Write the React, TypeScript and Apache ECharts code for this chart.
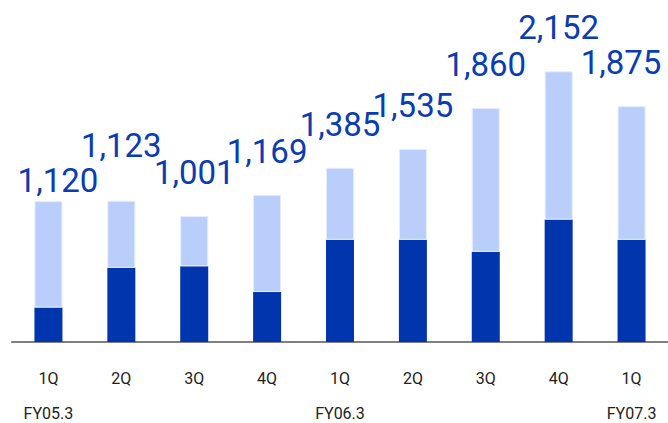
import React, { useEffect, useRef } from "react";
import * as echarts from "echarts";

const quarters = ["1Q", "2Q", "3Q", "4Q", "1Q", "2Q", "3Q", "4Q", "1Q"];
const fiscalYears = ["FY05.3", "", "", "", "FY06.3", "", "", "", "FY07.3"];
const totals = [1120, 1123, 1001, 1169, 1385, 1535, 1860, 2152, 1875];
const darkPart = [274, 590, 602, 397, 813, 813, 717, 973, 813];
const lightPart = totals.map((t, i) => t - darkPart[i]);

const fmt = (v: number) => v.toLocaleString("en-US");

export default function App() {
  const ref = useRef<HTMLDivElement>(null);
  useEffect(() => {
    if (!ref.current) return;
    const chart = echarts.init(ref.current, null, { renderer: "svg" });
    const nudge: Record<number, number[]> = { 0: [9.5, 22.5], 1: [0, -12], 8: [-10.5, 0] };
    chart.setOption({
      animation: false,
      grid: { left: 12, right: -1, top: 42, bottom: 81 },
      xAxis: {
        type: "category",
        data: quarters,
        axisTick: { show: false },
        axisLine: { lineStyle: { color: "#808080", width: 2 } },
        axisLabel: {
          interval: 0,
          margin: 19,
          formatter: (v: string, i: number) => `{q|${v}}\n{y|${fiscalYears[i] || " "}}`,
          rich: {
            q: { fontFamily: "Roboto", fontSize: 16, color: "#222", lineHeight: 35 },
            y: { fontFamily: "Roboto", fontSize: 16, color: "#222", lineHeight: 35 },
          },
        },
      },
      yAxis: { type: "value", min: 0, max: 2385, show: false, splitLine: { show: false } },
      series: [
        {
          type: "bar",
          stack: "t",
          barWidth: 28,
          data: darkPart,
          itemStyle: { color: "#0035AE" },
        },
        {
          type: "bar",
          stack: "t",
          barWidth: 28,
          data: lightPart.map((v, i) => ({
            value: v,
            label: nudge[i] ? { offset: nudge[i] } : undefined,
          })),
          itemStyle: { color: "#B9CEFB", borderColor: "#E4ECFF", borderWidth: 1 },
          label: {
            show: true,
            position: "top",
            distance: 27,
            fontFamily: "Roboto",
            fontSize: 33,
            color: "#0A3CB2",
            formatter: (p: any) => fmt(totals[p.dataIndex]),
          },
        },
      ],
    });
    return () => chart.dispose();
  }, []);
  return (
    <div
      ref={ref}
      style={{ position: "absolute", left: 0, top: 0, width: 668, height: 423 }}
    />
  );
}
